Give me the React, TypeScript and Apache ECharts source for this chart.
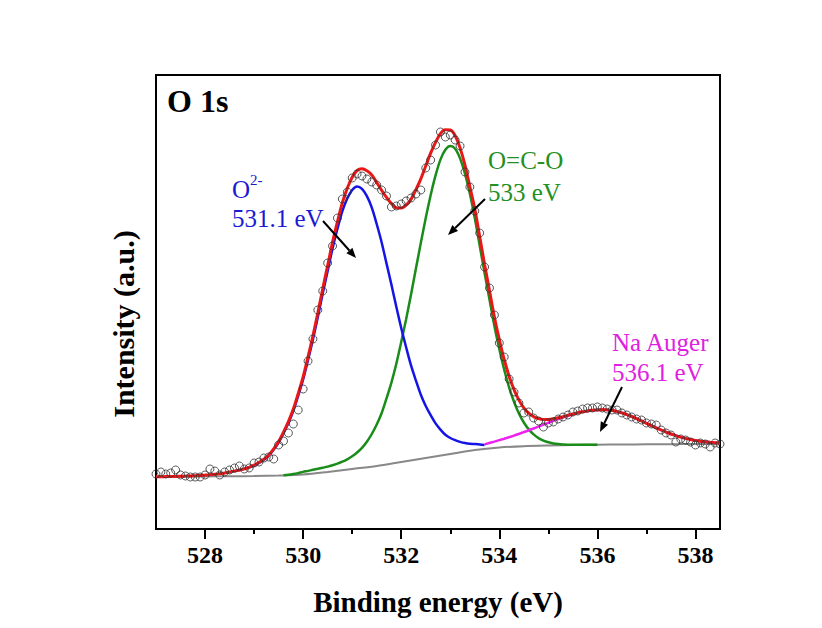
import React, { useEffect, useRef } from "react";
import * as echarts from "echarts";

// Binding energy grid (eV) for measured points and envelope
const ENERGY = [
  527.0, 527.1, 527.2, 527.3, 527.4, 527.5, 527.6, 527.7, 527.8, 527.9,
  528.0, 528.1, 528.2, 528.3, 528.4, 528.5, 528.6, 528.7, 528.8, 528.9,
  529.0, 529.1, 529.2, 529.3, 529.4, 529.5, 529.6, 529.7, 529.8, 529.9,
  530.0, 530.1, 530.2, 530.3, 530.4, 530.5, 530.6, 530.7, 530.8, 530.9,
  531.0, 531.1, 531.2, 531.3, 531.4, 531.5, 531.6, 531.7, 531.8, 531.9,
  532.0, 532.1, 532.2, 532.3, 532.4, 532.5, 532.6, 532.7, 532.8, 532.9,
  533.0, 533.1, 533.2, 533.3, 533.4, 533.5, 533.6, 533.7, 533.8, 533.9,
  534.0, 534.1, 534.2, 534.3, 534.4, 534.5, 534.6, 534.7, 534.8, 534.9,
  535.0, 535.1, 535.2, 535.3, 535.4, 535.5, 535.6, 535.7, 535.8, 535.9,
  536.0, 536.1, 536.2, 536.3, 536.4, 536.5, 536.6, 536.7, 536.8, 536.9,
  537.0, 537.1, 537.2, 537.3, 537.4, 537.5, 537.6, 537.7, 537.8, 537.9,
  538.0, 538.1, 538.2, 538.3, 538.4, 538.5,
];

// Measured intensity (open circles), a.u.
const MEASURED = [
  55, 57, 55, 56, 59, 54, 53, 52, 52, 52,
  54, 60, 58, 54, 57, 59, 61, 63, 60, 61,
  66, 67, 71, 72, 70, 84, 88, 96, 105, 119,
  140, 168, 190, 219, 238, 266, 283, 311, 330, 337,
  351, 355, 353, 350, 347, 344, 339, 333, 322, 323,
  325, 328, 331, 335, 339, 361, 369, 384, 397, 392,
  394, 389, 383, 357, 342, 318, 296, 262, 241, 214,
  186, 172, 150, 137, 126, 116, 117, 111, 108, 102,
  106, 107, 110, 112, 114, 117, 118, 120, 121, 121,
  122, 121, 120, 119, 119, 116, 114, 112, 110, 109,
  106, 105, 104, 99, 96, 94, 87, 90, 89, 87,
  84, 86, 85, 82, 86, 85,
];

// Fitted envelope (red)
const ENVELOPE = [
  52.2, 52.3, 52.4, 52.5, 52.6, 52.8, 52.9, 53.1, 53.3, 53.6,
  53.9, 54.3, 54.7, 55.3, 56.1, 57.0, 57.9, 59.0, 60.1, 61.7,
  63.8, 66.5, 69.7, 74.0, 80.2, 87.5, 96.9, 107.4, 119.9, 135.5,
  152.1, 172.1, 193.2, 216.2, 240.3, 263.4, 286.8, 307.4, 326.3, 340.7,
  351.7, 358.5, 360.2, 358.3, 354.0, 346.5, 338.8, 331.6, 325.4, 321.2,
  321.0, 323.8, 329.6, 339.4, 350.2, 363.0, 375.8, 386.6, 395.4, 399.2,
  399.0, 393.3, 381.1, 363.9, 342.2, 320.3, 292.4, 264.6, 238.2, 211.9,
  189.5, 169.5, 152.8, 139.4, 128.9, 121.2, 115.8, 112.4, 110.4, 109.6,
  109.6, 110.2, 111.2, 112.3, 113.7, 115.0, 116.2, 117.2, 118.1, 118.7,
  119.2, 119.3, 119.2, 118.5, 117.6, 116.1, 114.4, 112.5, 110.3, 108.1,
  105.7, 103.4, 101.2, 99.0, 96.9, 95.0, 93.4, 91.9, 90.6, 89.5,
  88.6, 87.8, 87.2, 86.7, 86.3, 85.9,
];

// O2- component (blue), 528.6 – 533.7 eV
const O2_START = 16;
const O2_VALUES = [
  57.8, 58.9, 60.1, 61.7, 63.5, 66.1, 69.2, 73.3, 79.4, 86.5,
  95.7, 105.9, 118.1, 133.3, 149.5, 169.0, 189.5, 212.0, 235.5, 258.0,
  280.6, 300.2, 317.8, 330.4, 339.0, 342.6, 340.2, 332.8, 321.4, 305.0,
  286.8, 265.6, 244.4, 222.2, 201.0, 181.8, 163.6, 148.4, 134.2, 123.0,
  113.8, 105.6, 99.4, 94.2, 91.0, 88.8, 87.1, 85.9, 85.2, 85.0,
  84.5, 84.0,
];

// O=C-O component (green), 529.6 – 536.0 eV
const OCO_START = 26;
const OCO_VALUES = [
  53.8, 54.2, 54.9, 55.9,
  57.1, 58.1, 59.2, 60.2, 61.3, 62.4, 63.8, 65.4, 67.3, 69.7,
  72.7, 76.5, 81.2, 87.3, 95.0, 104.5, 115.8, 130.6, 146.4, 165.2,
  187.0, 209.8, 234.6, 260.4, 286.2, 311.0, 333.8, 353.6, 369.4, 379.2,
  383.0, 380.3, 370.6, 355.4, 335.2, 311.0, 283.5, 256.0, 229.5, 203.0,
  180.1, 159.4, 141.7, 127.3, 115.5, 106.5, 99.6, 94.6, 90.9, 88.4,
  86.7, 85.6, 84.9, 84.5, 84.3, 84.2, 84.2, 84.2, 84.2, 84.3, 84.3,
];

// Na Auger component (magenta)
const NA_ENERGY = [
  533.7, 533.9, 534.1, 534.3, 534.5, 534.7, 534.9, 535.1, 535.3, 535.5,
  535.7, 535.9, 536.1, 536.3, 536.5, 536.7, 536.9, 537.1, 537.3, 537.5,
  537.7, 537.9, 538.1, 538.3, 538.5,
];
const NA_VALUES = [
  84.6, 87.4, 90.3, 93.4, 96.9, 100.5, 104.4, 108.1, 111.6, 114.8,
  117.2, 118.7, 119.3, 118.5, 116.1, 112.5, 108.1, 103.4, 99.0, 95.0,
  91.9, 89.5, 87.8, 86.7, 85.9,
];

// Background (gray)
const BG_ENERGY = [
  527, 527.5, 528, 528.5, 529, 529.5, 530, 530.5, 531, 531.5, 532, 532.5,
  533, 533.5, 534, 534.5, 535, 535.5, 536, 536.5, 537, 537.5, 538, 538.5,
];
const BG_VALUES = [
  52, 52.25, 52.5, 52.75, 53, 53.5, 54.5, 57, 60, 63, 67, 71,
  75, 79, 81.5, 82.8, 83.5, 84, 84.3, 84.5, 84.7, 84.8, 85, 85,
];

const MAJOR_TICKS = [528, 530, 532, 534, 536, 538];
const MINOR_TICKS = [529, 531, 533, 535, 537];

const FONT = '"Times New Roman", "Liberation Serif", serif';

const pairs = (xs: number[], ys: number[]) => ys.map((y, i) => [xs[i], y]);

export default function App() {
  const ref = useRef<HTMLDivElement>(null);

  useEffect(() => {
    if (!ref.current) return;
    const chart = echarts.init(ref.current, null, { renderer: "svg" });

    const lineBase = {
      type: "line",
      showSymbol: false,
      symbol: "none",
      smooth: 0.3,
      xAxisIndex: 0,
      yAxisIndex: 0,
    };

    const txt = (text: string, x: number, y: number, color: string, size: number, extra: any = {}) => ({
      type: "text",
      x,
      y,
      z: 100,
      style: {
        text,
        fill: color,
        fontSize: size,
        fontFamily: FONT,
        fontWeight: extra.bold ? "bold" : "normal",
        align: "left",
        verticalAlign: "middle",
        textAlign: "left",
        textVerticalAlign: "middle",
      },
    });

    const arrow = (x1: number, y1: number, cx: number, cy: number, tip: number[], w1: number[], w2: number[]) => [
      { type: "line", z: 100, shape: { x1, y1, x2: cx, y2: cy }, style: { stroke: "#000", lineWidth: 2 } },
      { type: "polygon", z: 100, shape: { points: [tip, w1, w2] }, style: { fill: "#000" } },
    ];

    chart.setOption({
      animation: false,
      backgroundColor: "#ffffff",
      grid: {
        left: 156,
        right: 102,
        top: 75,
        bottom: 99,
        show: true,
        borderColor: "#000",
        borderWidth: 2,
        containLabel: false,
        outerBoundsMode: "none",
      },
      xAxis: [
        {
          type: "value",
          min: 527,
          max: 538.5,
          position: "bottom",
          name: "Binding energy (eV)",
          nameLocation: "middle",
          nameGap: 58,
          nameTextStyle: { fontSize: 29, fontWeight: "bold", fontFamily: FONT, color: "#000" },
          axisLine: { show: true, onZero: false, lineStyle: { color: "#000", width: 2 } },
          axisTick: { show: true, customValues: MAJOR_TICKS, length: 10, inside: false, lineStyle: { color: "#000", width: 2 } },
          axisLabel: {
            show: true,
            customValues: MAJOR_TICKS,
            margin: 14,
            fontSize: 24,
            fontWeight: "bold",
            fontFamily: FONT,
            color: "#000",
            formatter: (v: number) => String(Math.round(v)),
          },
          splitLine: { show: false },
        },
        {
          type: "value",
          min: 527,
          max: 538.5,
          position: "bottom",
          offset: 0,
          axisLine: { show: false },
          axisTick: { show: true, customValues: MINOR_TICKS, length: 5, inside: false, lineStyle: { color: "#000", width: 2 } },
          axisLabel: { show: false },
          splitLine: { show: false },
        },
      ],
      yAxis: {
        type: "value",
        min: 0,
        max: 454,
        axisLine: { show: true, onZero: false, lineStyle: { color: "#000", width: 2 } },
        axisTick: { show: false },
        axisLabel: { show: false },
        splitLine: { show: false },
      },
      series: [
        { ...lineBase, name: "Background", data: pairs(BG_ENERGY, BG_VALUES), lineStyle: { color: "#888888", width: 2 } },
        { ...lineBase, name: "O=C-O", data: pairs(ENERGY.slice(OCO_START, OCO_START + OCO_VALUES.length), OCO_VALUES), lineStyle: { color: "#1a8c1a", width: 2.5 } },
        { ...lineBase, name: "O2-", data: pairs(ENERGY.slice(O2_START, O2_START + O2_VALUES.length), O2_VALUES), lineStyle: { color: "#1414e6", width: 2.5 } },
        { ...lineBase, name: "Na Auger", data: pairs(NA_ENERGY, NA_VALUES), lineStyle: { color: "#ee22ee", width: 2.5 } },
        { ...lineBase, name: "Envelope", data: pairs(ENERGY, ENVELOPE), lineStyle: { color: "#e81818", width: 3 } },
        {
          type: "scatter",
          name: "Measured",
          data: pairs(ENERGY, MEASURED),
          symbol: "circle",
          symbolSize: 8,
          itemStyle: { color: "rgba(255,255,255,0)", borderColor: "#333", borderWidth: 1 },
          z: 3,
        },
      ],
      graphic: [
        txt("O 1s", 167, 101, "#000", 32, { bold: true }),
        {
          type: "text",
          x: 123,
          y: 324,
          rotation: Math.PI / 2,
          z: 100,
          style: {
            text: "Intensity (a.u.)",
            fill: "#000",
            fontSize: 30,
            fontWeight: "bold",
            fontFamily: FONT,
            align: "center",
            verticalAlign: "middle",
            textAlign: "center",
            textVerticalAlign: "middle",
          },
        },
        txt("O", 232, 189, "#1a1ad2", 25),
        txt("2-", 250, 180, "#1a1ad2", 15),
        txt("531.1 eV", 232, 218, "#1a1ad2", 25),
        txt("O=C-O", 488, 160, "#229022", 25),
        txt("533 eV", 488, 192, "#229022", 25),
        txt("Na Auger", 612, 342, "#e020e0", 25),
        txt("536.1 eV", 612, 372, "#e020e0", 25),
        ...arrow(323, 221, 349.4, 250.5, [356, 258], [346.4, 253.2], [352.4, 247.8]),
        ...arrow(485, 199, 455.2, 228.0, [448, 235], [452.4, 225.1], [458.0, 230.9]),
        ...arrow(622, 387, 604.4, 423.0, [600, 432], [600.8, 421.2], [608.0, 424.8]),
      ],
    });

    return () => chart.dispose();
  }, []);

  return (
    <div
      ref={ref}
      style={{ position: "fixed", left: 0, top: 0, width: 822, height: 628, background: "#fff" }}
    />
  );
}
